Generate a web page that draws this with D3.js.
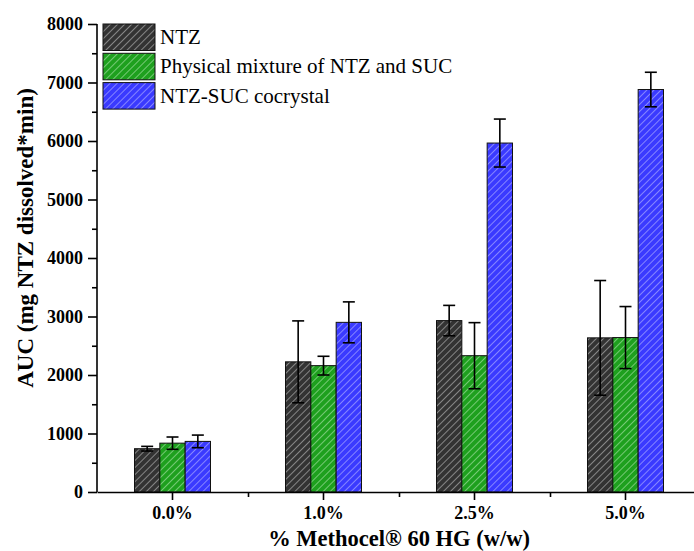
<!DOCTYPE html>
<html>
<head>
<meta charset="utf-8">
<script src="https://cdn.jsdelivr.net/npm/d3@7"></script>
<style>
  body { margin: 0; background: #fff; }
  svg text { font-family: "Palatino Linotype", "Book Antiqua", Palatino, "Liberation Serif", serif; }
</style>
</head>
<body>
<div id="chart"></div>
<script>
// Data
var categories = ["0.0%", "1.0%", "2.5%", "5.0%"];
var seriesNames = ["NTZ", "Physical mixture of NTZ and SUC", "NTZ-SUC cocrystal"];
var ntzMean = [740, 2225, 2930, 2635];
var ntzErr = [40, 700, 260, 980];
var pmMean = [835, 2160, 2330, 2640];
var pmErr = [105, 160, 565, 530];
var cocMean = [865, 2900, 5965, 6880];
var cocErr = [108, 350, 410, 295];
var yTicks = [0, 1000, 2000, 3000, 4000, 5000, 6000, 7000, 8000];

var colors = ["#333333", "#1ea01e", "#3a3aff"];
var stripes = ["#b4b4b4", "#a6e0a6", "#b0b0ff"];

var means = [ntzMean, pmMean, cocMean];
var errs = [ntzErr, pmErr, cocErr];

var W = 694, H = 551;
var margin = { top: 24, left: 97, bottom: 59 };
var plotH = H - margin.top - margin.bottom;

var svg = d3.select("#chart").append("svg")
    .attr("width", W)
    .attr("height", H);

// hatch patterns
var defs = svg.append("defs");
colors.forEach(function(c, i) {
    var p = defs.append("pattern")
        .attr("id", "hatch" + i)
        .attr("patternUnits", "userSpaceOnUse")
        .attr("width", 5)
        .attr("height", 5)
        .attr("patternTransform", "rotate(45)");
    p.append("rect").attr("width", 5).attr("height", 5).attr("fill", c);
    p.append("line")
        .attr("x1", 0).attr("y1", 0).attr("x2", 0).attr("y2", 5)
        .attr("stroke", stripes[i])
        .attr("stroke-width", 1.3);
});

var g = svg.append("g")
    .attr("transform", "translate(" + margin.left + "," + margin.top + ")");

var x = d3.scaleBand()
    .domain(categories)
    .range([0, 151 * 4])
    .padding(0);

var xSub = d3.scaleBand()
    .domain(d3.range(3))
    .range([x.bandwidth() / 2 - 38, x.bandwidth() / 2 + 38]);

var y = d3.scaleLinear()
    .domain([0, 8000])
    .range([plotH, 0]);

// bars
var rows = [];
categories.forEach(function(cat, ci) {
    means.forEach(function(m, si) {
        rows.push({ cat: cat, s: si, v: m[ci], e: errs[si][ci] });
    });
});

g.selectAll("rect.bar")
    .data(rows)
    .enter()
    .append("rect")
    .attr("class", "bar")
    .attr("x", function(d) { return x(d.cat) + xSub(d.s); })
    .attr("y", function(d) { return y(d.v); })
    .attr("width", xSub.bandwidth())
    .attr("height", function(d) { return plotH - y(d.v); })
    .attr("fill", function(d) { return "url(#hatch" + d.s + ")"; })
    .attr("stroke", "#111")
    .attr("stroke-width", 1);

// error bars
var eb = g.selectAll("g.err")
    .data(rows)
    .enter()
    .append("g")
    .attr("class", "err")
    .attr("transform", function(d) {
        return "translate(" + (x(d.cat) + xSub(d.s) + xSub.bandwidth() / 2) + ",0)";
    });

eb.append("line")
    .attr("y1", function(d) { return y(d.v + d.e); })
    .attr("y2", function(d) { return y(d.v - d.e); })
    .attr("stroke", "#000").attr("stroke-width", 1.6);
eb.append("line")
    .attr("x1", -6).attr("x2", 6)
    .attr("y1", function(d) { return y(d.v + d.e); })
    .attr("y2", function(d) { return y(d.v + d.e); })
    .attr("stroke", "#000").attr("stroke-width", 1.6);
eb.append("line")
    .attr("x1", -6).attr("x2", 6)
    .attr("y1", function(d) { return y(d.v - d.e); })
    .attr("y2", function(d) { return y(d.v - d.e); })
    .attr("stroke", "#000").attr("stroke-width", 1.6);

// y axis
var yAxis = d3.axisLeft(y).tickValues(yTicks).tickSize(9).tickPadding(5).tickFormat(d3.format("d"));
var yMinor = d3.axisLeft(y).tickValues(d3.range(500, 8000, 1000)).tickSize(5).tickFormat("");
var yG = g.append("g").call(yAxis);
g.append("g").call(yMinor).select(".domain").remove();

// x axis
var xAxis = d3.axisBottom(x).tickSize(8).tickPadding(6).tickSizeOuter(0);
var xG = g.append("g")
    .attr("transform", "translate(0," + plotH + ")")
    .call(xAxis);
var xMinor = d3.axisBottom(d3.scaleLinear().domain([0, 4]).range([0, 151 * 4]))
    .tickValues([1, 2, 3]).tickSize(5).tickFormat("");
g.append("g").attr("transform", "translate(0," + plotH + ")")
    .call(xMinor).select(".domain").remove();

[yG, xG].forEach(function(a) {
    a.select(".domain").attr("stroke", "#000").attr("stroke-width", 1.6);
    a.selectAll(".tick text")
        .attr("font-size", 18)
        .attr("font-weight", "bold")
        .attr("fill", "#000");
});
g.selectAll(".tick line").attr("stroke", "#000").attr("stroke-width", 1.6);
yG.select(".domain").attr("d", "M0," + plotH + "V0");

// axis titles
svg.append("text")
    .attr("transform", "translate(33,238) rotate(-90)")
    .attr("text-anchor", "middle")
    .attr("font-size", 23)
    .attr("font-weight", "bold")
    .text("AUC (mg NTZ dissolved*min)");

svg.append("text")
    .attr("x", 399)
    .attr("y", 546)
    .attr("text-anchor", "middle")
    .attr("font-size", 22.5)
    .attr("font-weight", "bold")
    .text("% Methocel® 60 HG (w/w)");

// legend
var legend = svg.append("g").attr("transform", "translate(103,24)");
var li = legend.selectAll("g")
    .data(seriesNames)
    .enter()
    .append("g")
    .attr("transform", function(d, i) { return "translate(0," + (i * 29.3) + ")"; });
li.append("rect")
    .attr("width", 52)
    .attr("height", 26.5)
    .attr("fill", function(d, i) { return "url(#hatch" + i + ")"; })
    .attr("stroke", "#111")
    .attr("stroke-width", 1);
li.append("text")
    .attr("x", 57)
    .attr("y", 20)
    .attr("font-size", 21)
    .attr("fill", "#000")
    .text(function(d) { return d; });
</script>
</body>
</html>
